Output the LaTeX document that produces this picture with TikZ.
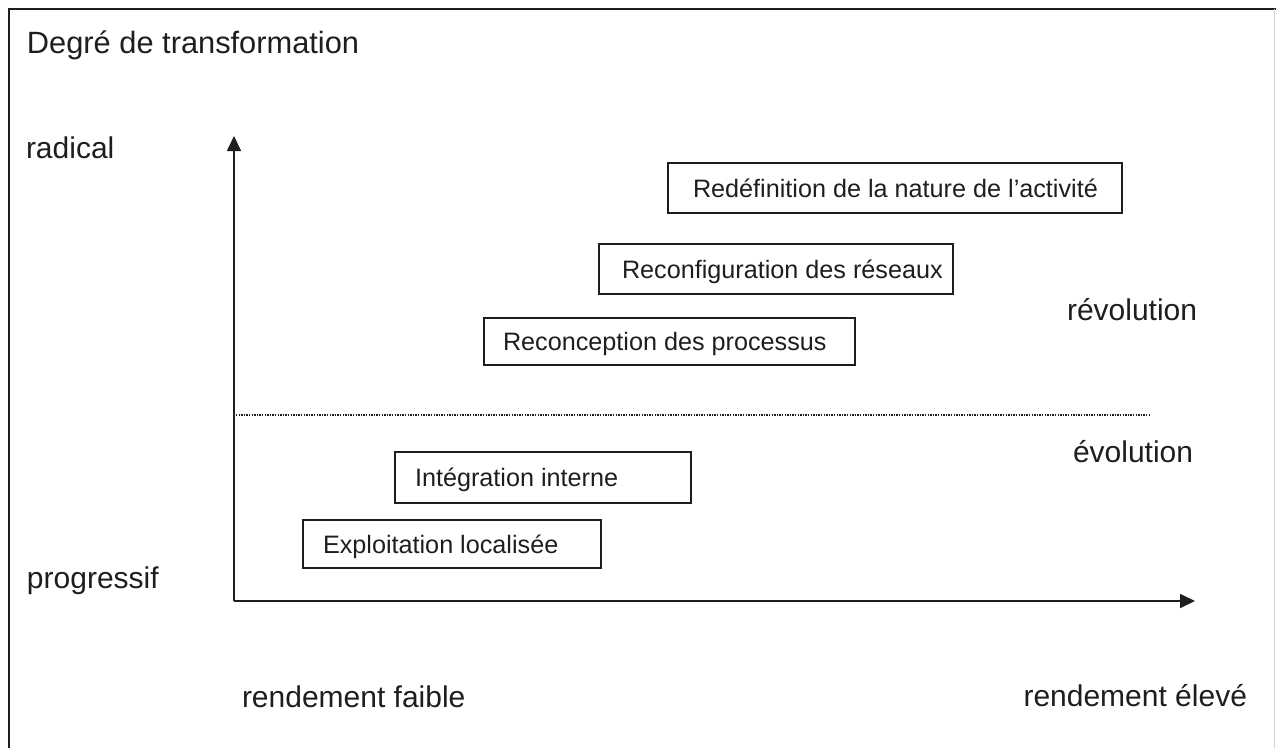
\documentclass[tikz,border=0pt]{standalone}
\usepackage{fontspec}
\setmainfont{Liberation Sans}
\usetikzlibrary{arrows.meta}
\definecolor{ink}{HTML}{1E1E1E}
\tikzset{
  big/.style={inner sep=0pt, outer sep=0pt, text=ink, font=\fontsize{30}{36}\selectfont},
  titlefont/.style={inner sep=0pt, outer sep=0pt, text=ink, font=\fontsize{30.8}{36}\selectfont},
  small/.style={inner sep=0pt, outer sep=0pt, text=ink, font=\fontsize{25.2}{30}\selectfont},
  boxstyle/.style={draw=ink, line width=1.6pt, inner sep=0pt, outer sep=0pt, anchor=north west},
  axis/.style={draw=ink, line width=1.7pt, -{Triangle[length=15pt,width=14pt]}},
  frameline/.style={draw=ink, line width=1.5pt},
  sep/.style={draw=ink, line width=1.3pt, dash pattern=on 1.3pt off 1.3pt}
}
\begin{document}
\begin{tikzpicture}[x=1pt,y=-1pt]
\useasboundingbox (0,0) rectangle (1276,748);
% frame
\coordinate (fbl) at (9,748);
\coordinate (ftl) at (9,9);
\coordinate (ftr) at (1276,9);
\coordinate (frt) at (1274.5,9);
\coordinate (frb) at (1274.5,748);
\draw[frameline] (fbl) -- (ftl) -- (ftr);
\draw[gray!35, line width=1pt] (frt) -- (frb);
% titles and labels
\node[titlefont, anchor=base west] (title) at (27,53) {Degré de transformation};
\node[big, anchor=base west] (radical) at (26,158) {radical};
\node[big, anchor=base west] (progressif) at (27,588) {progressif};
\node[big, anchor=base west] (rfaible) at (242,707) {rendement faible};
\node[big, anchor=base east] (releve) at (1247,706) {rendement élevé};
\node[big, anchor=base west] (revol) at (1067,320) {révolution};
\node[big, anchor=base west] (evol) at (1073,462) {évolution};
% axes
\coordinate (O) at (234,601);
\coordinate (ytip) at (234,136);
\coordinate (xtip) at (1195,601);
\draw[axis] (O) -- (ytip);
\draw[axis] (O) -- (xtip);
% dotted separator
\coordinate (dl) at (236,415);
\coordinate (dr) at (1150,415);
\draw[sep] (dl) -- (dr);
% boxes
\node[boxstyle, minimum width=454pt, minimum height=50pt] (b1) at (668,163) {};
\node[small, anchor=base west] (t1) at ([xshift=25pt,yshift=-9pt]b1.west) {Redéfinition de la nature de l’activité};
\node[boxstyle, minimum width=354pt, minimum height=50pt] (b2) at (599,244) {};
\node[small, anchor=base west] (t2) at ([xshift=23pt,yshift=-9pt]b2.west) {Reconfiguration des réseaux};
\node[boxstyle, minimum width=371pt, minimum height=47pt] (b3) at (484,318) {};
\node[small, anchor=base west] (t3) at ([xshift=19pt,yshift=-9pt]b3.west) {Reconception des processus};
\node[boxstyle, minimum width=296pt, minimum height=51pt] (b4) at (395,452) {};
\node[small, anchor=base west] (t4) at ([xshift=20pt,yshift=-9pt]b4.west) {Intégration interne};
\node[boxstyle, minimum width=298pt, minimum height=48pt] (b5) at (303,520) {};
\node[small, anchor=base west] (t5) at ([xshift=20pt,yshift=-9pt]b5.west) {Exploitation localisée};
\end{tikzpicture}
\end{document}
